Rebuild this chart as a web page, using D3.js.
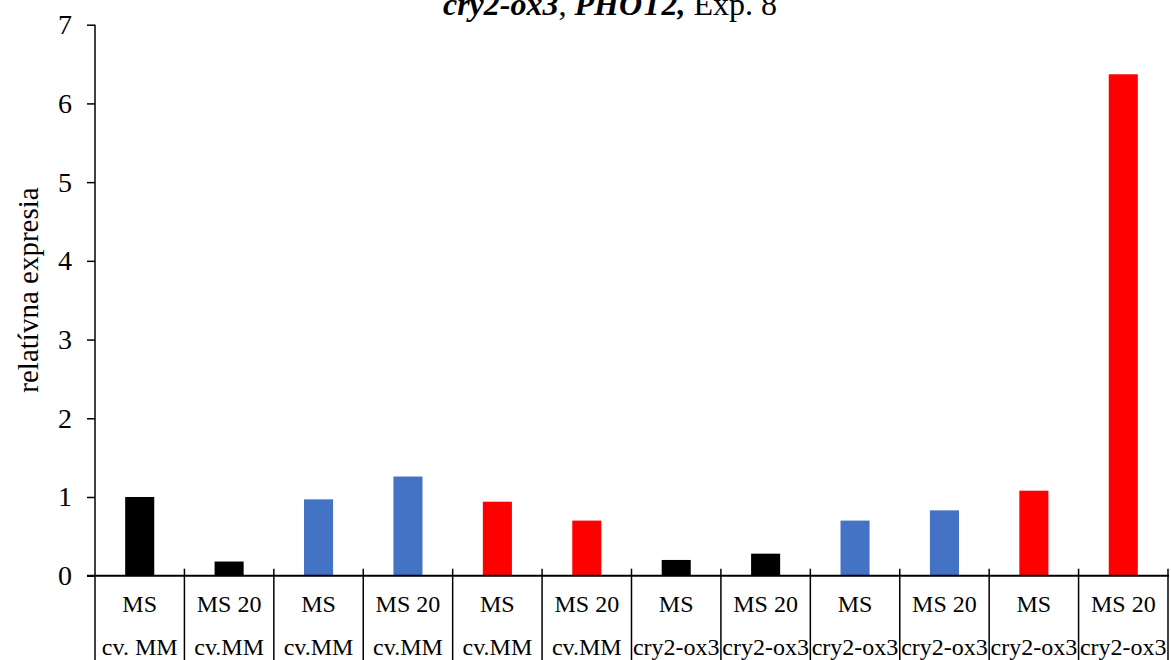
<!DOCTYPE html>
<html>
<head>
<meta charset="utf-8">
<script src="https://cdn.jsdelivr.net/npm/d3@7"></script>
<style>
html,body{margin:0;padding:0;background:#fff;}
svg{display:block;font-family:"Liberation Serif","Times New Roman",serif;}
</style>
</head>
<body>
<svg id="chart" width="1171" height="660"></svg>
<script>
const treatments = ["MS","MS 20","MS","MS 20","MS","MS 20","MS","MS 20","MS","MS 20","MS","MS 20"];
const genotypes = ["cv. MM","cv.MM","cv.MM","cv.MM","cv.MM","cv.MM","cry2-ox3","cry2-ox3","cry2-ox3","cry2-ox3","cry2-ox3","cry2-ox3"];
const values = [1.0,0.18,0.97,1.26,0.94,0.70,0.20,0.28,0.70,0.83,1.08,6.37];
const colors = ["#000000","#000000","#4472C4","#4472C4","#FF0000","#FF0000","#000000","#000000","#4472C4","#4472C4","#FF0000","#FF0000"];
const yTicks = [0,1,2,3,4,5,6,7];

(function(){
const svg = d3.select("#chart");
const pL = 95, pR = 1168, pT = 24.7, zeroY = 575.7;
const ids = d3.range(values.length);
const x = d3.scaleBand().domain(ids).range([pL, pR]).paddingInner(0).paddingOuter(0);
const y = d3.scaleLinear().domain([0,7]).range([zeroY, pT]);

// bars
const bw = x.bandwidth()*0.325;
svg.append("g").selectAll("rect").data(ids).join("rect")
  .attr("x", i => x(i) + x.bandwidth()/2 - bw/2)
  .attr("width", bw)
  .attr("y", i => y(values[i]))
  .attr("height", i => y(0) - y(values[i]))
  .attr("fill", i => colors[i]);

// y axis
const yAxis = d3.axisLeft(y).tickValues(yTicks).tickSize(8).tickPadding(15).tickFormat(d3.format("d"));
const gy = svg.append("g").attr("transform", `translate(${pL},0)`).call(yAxis);
gy.select(".domain").remove();
gy.selectAll(".tick line").attr("stroke","#000").attr("stroke-width",1.5);
gy.selectAll(".tick text").attr("font-size",28).attr("fill","#000").attr("font-family","Liberation Serif");
svg.append("line").attr("x1",pL).attr("x2",pL).attr("y1",pT).attr("y2",660).attr("stroke","#000").attr("stroke-width",1.5);

// x axis line
svg.append("line").attr("x1",pL-8).attr("x2",pR+1).attr("y1",zeroY).attr("y2",zeroY).attr("stroke","#000").attr("stroke-width",2);

// dividers
const bounds = ids.map(i => x(i) + x.bandwidth());
svg.append("g").selectAll("line").data(bounds).join("line")
  .attr("x1", d => d).attr("x2", d => d)
  .attr("y1", zeroY-7).attr("y2", 660)
  .attr("stroke","#000").attr("stroke-width",1.5);

// category labels
const lab = svg.append("g").attr("font-size",24).attr("text-anchor","middle").attr("fill","#000");
lab.selectAll("text.t").data(ids).join("text").attr("class","t")
  .attr("x", i => x(i)+x.bandwidth()/2).attr("y", 612).text(i => treatments[i]);
lab.selectAll("text.g").data(ids).join("text").attr("class","g")
  .attr("x", i => x(i)+x.bandwidth()/2).attr("y", 655).text(i => genotypes[i]);

// y title
svg.append("text").attr("transform","translate(38,290) rotate(-90)")
  .attr("text-anchor","middle").attr("font-size",29).text("relatívna expresia");

// chart title
const t = svg.append("text").attr("x",610).attr("y",15).attr("text-anchor","middle").attr("font-size",32);
t.append("tspan").attr("font-weight","bold").attr("font-style","italic").text("cry2-ox3");
t.append("tspan").text(", ");
t.append("tspan").attr("font-weight","bold").attr("font-style","italic").text("PHOT2,");
t.append("tspan").text(" Exp. 8");
})();
</script>
</body>
</html>
